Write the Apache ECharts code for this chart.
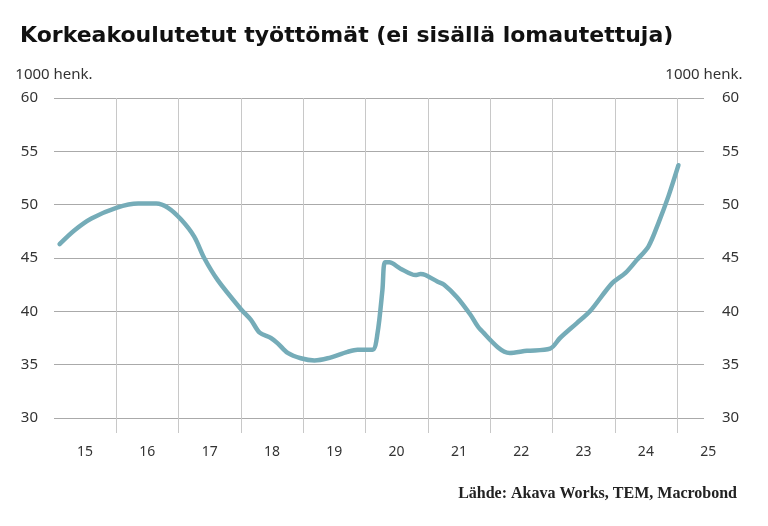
<!DOCTYPE html>
<html>
<head>
<meta charset="utf-8">
<title>Korkeakoulutetut työttömät</title>
<script src="https://cdn.jsdelivr.net/npm/echarts@6/dist/echarts.min.js"></script>
<style>
	html, body { margin: 0; padding: 0; background: #fff; }
	#main { width: 768px; height: 526px; }
</style>
</head>
<body>
<div id="main"></div>
<script>
	//aikapisteet (vuosi desimaalina) ja työttömät, 1000 henk.
	var years = [
		2015.09, 2015.33, 2015.6, 2016.0, 2016.35, 2016.64, 2016.83, 2017.04, 2017.25, 2017.41,
		2017.63, 2018.0, 2018.16, 2018.3, 2018.48, 2018.59, 2018.75, 2018.96, 2019.18, 2019.39,
		2019.71, 2019.87, 2020.11, 2020.19, 2020.27, 2020.31, 2020.38, 2020.56, 2020.8, 2020.88,
		2020.96, 2021.15, 2021.26, 2021.47, 2021.68, 2021.84, 2022.31, 2022.59, 2022.96, 2023.12,
		2023.39, 2023.6, 2023.95, 2024.17, 2024.35, 2024.54, 2024.7, 2024.86, 2025.02
	];
	var unemployed = [
		46.3, 47.6, 48.7, 49.7, 50.1, 50.1, 49.7, 48.6, 47.0, 45.0,
		42.9, 40.2, 39.2, 38.0, 37.5, 37.0, 36.1, 35.6, 35.4, 35.6,
		36.2, 36.4, 36.4, 37.9, 42.0, 44.6, 44.6, 44.0, 43.4, 43.5,
		43.4, 42.8, 42.5, 41.3, 39.7, 38.3, 36.1, 36.3, 36.5, 37.5,
		38.9, 40.0, 42.6, 43.6, 44.8, 46.1, 48.3, 50.8, 53.7
	];
	//vuosirajat (pystyviivat) ja vuosien nimet
	var yearLines = [2016, 2017, 2018, 2019, 2020, 2021, 2022, 2023, 2024, 2025];
	var yearLabels = ['15', '16', '17', '18', '19', '20', '21', '22', '23', '24', '25'];
	var yTicks = [30, 35, 40, 45, 50, 55, 60];

	var lineData = [];
	for (var i = 0; i < years.length; i++) {
		lineData.push([years[i], unemployed[i]]);
	}

	var labelFont = 'Noto Sans';
	var yAxisBase = function(pos) {
		return {
			type: 'value',
			position: pos,
			min: yTicks[0],
			max: yTicks[yTicks.length - 1],
			interval: 5,
			name: '1000 henk.',
			nameLocation: 'end',
			nameGap: 16,
			nameTextStyle: { color: '#333', fontSize: 15, fontFamily: labelFont },
			axisLine: { show: false },
			axisTick: { show: false },
			axisLabel: {
				color: '#333', fontSize: 15, fontFamily: labelFont,
				margin: pos == 'left' ? 16 : 18,
				align: pos == 'left' ? 'right' : 'left'
			},
			splitLine: { show: pos == 'left', lineStyle: { color: '#aaaaaa', width: 1 } }
		};
	};

	var myChart = echarts.init(document.getElementById('main'), null, { renderer: 'canvas' });
	var option = {
		backgroundColor: '#fff',
		animation: false,
		title: [{
			text: 'Korkeakoulutetut työttömät (ei sisällä lomautettuja)',
			left: 15,
			top: 20,
			textStyle: { fontFamily: 'DejaVu Sans', fontWeight: 'bold', fontSize: 22, color: '#111' }
		}, {
			text: 'Lähde: Akava Works, TEM, Macrobond',
			right: 26,
			top: 481,
			textStyle: { fontFamily: 'Liberation Serif', fontWeight: 'bold', fontSize: 16, color: '#222' }
		}],
		grid: { left: 54, right: 64, top: 98, bottom: 108, containLabel: false },
		xAxis: {
			type: 'value',
			min: 2015,
			max: 2025.43,
			interval: 1,
			axisLine: { show: false },
			axisTick: {
				show: true,
				length: 15,
				customValues: yearLines,
				lineStyle: { color: '#c8c8c8', width: 1 }
			},
			splitLine: {
				show: true,
				lineStyle: { color: '#c8c8c8', width: 1 }
			},
			axisLabel: {
				color: '#333', fontSize: 14, fontFamily: labelFont,
				margin: 27,
				padding: [0, 0, 0, 62],
				formatter: function(v) {
					//vain kokonaiset vuodet
					if (Math.abs(v - Math.round(v)) > 0.001) return '';
					return yearLabels[Math.round(v) - 2015] || '';
				}
			}
		},
		yAxis: [yAxisBase('left'), yAxisBase('right')],
		series: [{
			type: 'line',
			data: lineData,
			showSymbol: false,
			smooth: 0.3,
			lineStyle: { color: '#75acb8', width: 4.5, cap: 'round', join: 'round' }
		}]
	};
	myChart.setOption(option);
</script>
</body>
</html>
